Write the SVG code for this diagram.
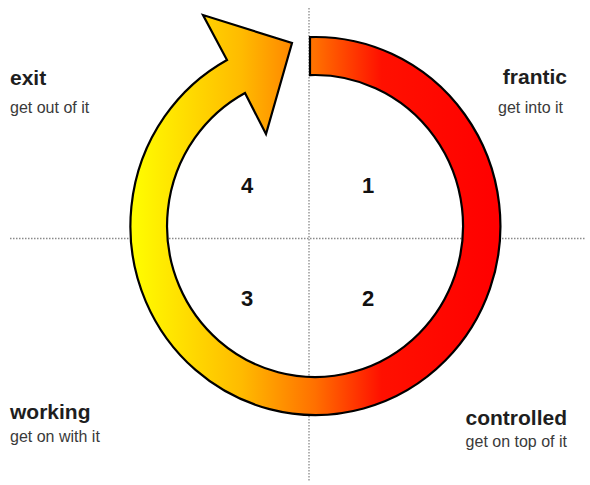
<svg xmlns="http://www.w3.org/2000/svg" width="590" height="485" viewBox="0 0 590 485">
<defs>
<linearGradient id="ringGrad" gradientUnits="userSpaceOnUse" x1="130" y1="0" x2="500" y2="0">
<stop offset="0" stop-color="#ffff00"/>
<stop offset="0.3" stop-color="#ffbb00"/>
<stop offset="0.5" stop-color="#ff7000"/>
<stop offset="0.68" stop-color="#ff1000"/>
<stop offset="1" stop-color="#ff0000"/>
</linearGradient>
<style>
.axis{stroke:#8a8a8a;stroke-width:1.3;stroke-dasharray:1.5 1.5;fill:none}
.title{font-family:"Liberation Sans",Arial,sans-serif;font-weight:bold;font-size:21px;fill:#1e1e1e}
.sub{font-family:"Liberation Sans",Arial,sans-serif;font-size:16px;fill:#3a3a3a}
.num{font-family:"Liberation Sans",Arial,sans-serif;font-weight:bold;font-size:22px;fill:#111;text-anchor:middle}
</style>
</defs>
<rect width="590" height="485" fill="#ffffff"/>
<g id="axes">
<line class="axis" x1="10" y1="238.5" x2="586" y2="238.5"/>
<line class="axis" x1="309" y1="8" x2="309" y2="482"/>
</g>
<g id="cycle">
<path d="M310,37.1 A185,189 0 1 1 227,60 L203,15 L292,43 L266,134 L245,93 A148,151 0 1 0 310,75.1 Z" fill="url(#ringGrad)" stroke="#000" stroke-width="2.2" stroke-linejoin="miter"/>
</g>
<g id="q1"><text class="num" x="368" y="193">1</text></g>
<g id="q2"><text class="num" x="368" y="306">2</text></g>
<g id="q3"><text class="num" x="247" y="306">3</text></g>
<g id="q4"><text class="num" x="247" y="193">4</text></g>
<g id="exit">
<text class="title" x="10" y="85">exit</text>
<text class="sub" x="10" y="113">get out of it</text>
</g>
<g id="frantic">
<text class="title" x="567" y="84" text-anchor="end">frantic</text>
<text class="sub" x="563" y="113" text-anchor="end">get into it</text>
</g>
<g id="working">
<text class="title" x="10" y="419">working</text>
<text class="sub" x="10" y="442">get on with it</text>
</g>
<g id="controlled">
<text class="title" x="567" y="425" text-anchor="end">controlled</text>
<text class="sub" x="567" y="447" text-anchor="end">get on top of it</text>
</g>
</svg>
